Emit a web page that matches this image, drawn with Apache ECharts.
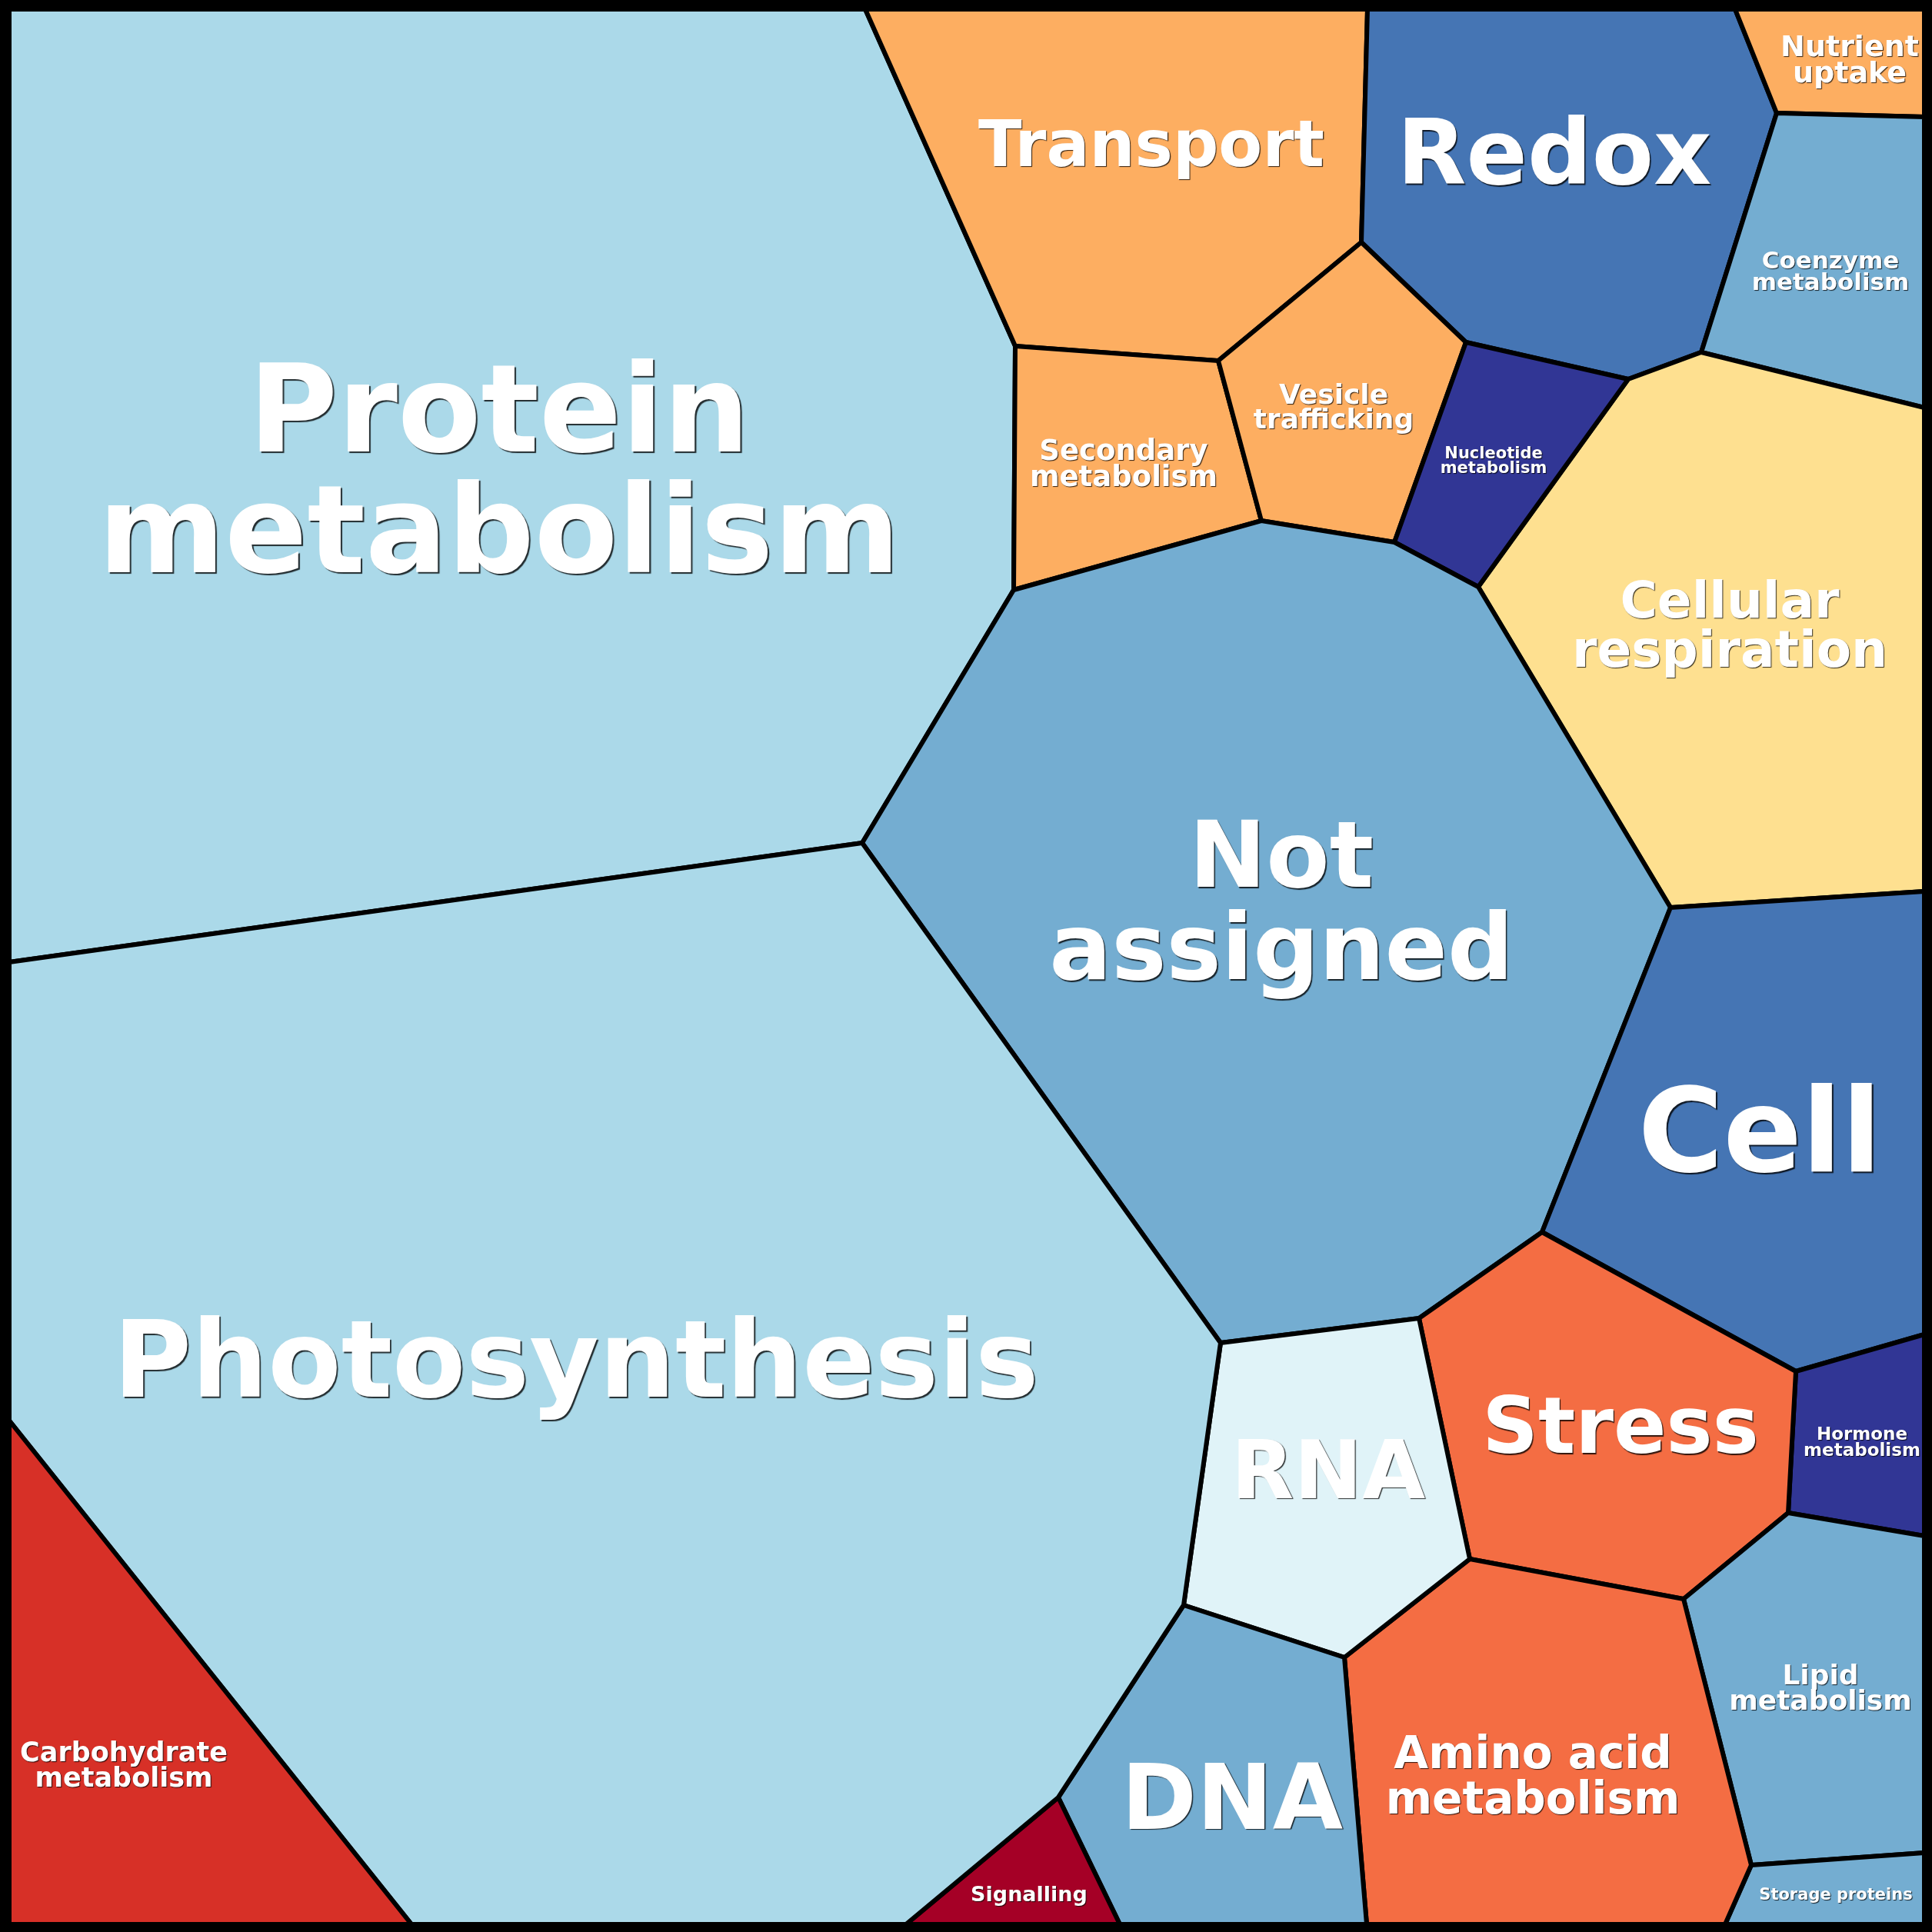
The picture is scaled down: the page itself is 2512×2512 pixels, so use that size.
<!DOCTYPE html>
<html>
<head>
<meta charset="utf-8">
<script src="https://cdn.jsdelivr.net/npm/echarts@6/dist/echarts.min.js"></script>
<style>
html,body{margin:0;padding:0;background:#fff;}
#chart{width:2512px;height:2512px;}
</style>
</head>
<body>
<div id="chart"></div>
<script>
// ---- Data: Voronoi treemap cells (vertex coordinates in plot units) ----
const categories = [
  'Protein metabolism','Transport','Redox','Nutrient uptake','Coenzyme metabolism',
  'Cellular respiration','Secondary metabolism','Vesicle trafficking','Nucleotide metabolism',
  'Not assigned','Cell','Hormone metabolism','Stress','Lipid metabolism','Storage proteins',
  'Amino acid metabolism','RNA','DNA','Signalling','Photosynthesis','Carbohydrate metabolism'
];
const labelLines = [
  'Protein\nmetabolism','Transport','Redox','Nutrient\nuptake','Coenzyme\nmetabolism',
  'Cellular\nrespiration','Secondary\nmetabolism','Vesicle\ntrafficking','Nucleotide\nmetabolism',
  'Not\nassigned','Cell','Hormone\nmetabolism','Stress','Lipid\nmetabolism','Storage proteins',
  'Amino acid\nmetabolism','RNA','DNA','Signalling','Photosynthesis','Carbohydrate\nmetabolism'
];
const cellVertices = [
  [[12,12],[1125,12],[1320,450],[1318,767],[1121,1096],[12,1251]],
  [[1125,12],[1778,12],[1770,315],[1584,469],[1320,450]],
  [[1778,12],[2256,12],[2310,147],[2212,458],[2117,493],[1906,445],[1770,315]],
  [[2256,12],[2502,12],[2502,152],[2310,147]],
  [[2310,147],[2502,152],[2502,530],[2212,458]],
  [[2212,458],[2502,530],[2502,1159],[2172,1180],[1922,763],[2117,493]],
  [[1320,450],[1584,469],[1640,677],[1318,767]],
  [[1584,469],[1770,315],[1906,445],[1813,705],[1640,677]],
  [[1906,445],[2117,493],[1922,763],[1813,705]],
  [[1318,767],[1640,677],[1813,705],[1922,763],[2172,1180],[2005,1602],[1845,1714],[1587,1746],[1121,1096]],
  [[2172,1180],[2502,1159],[2502,1735],[2335,1783],[2005,1602]],
  [[2335,1783],[2502,1735],[2502,1997],[2325,1967]],
  [[2005,1602],[2335,1783],[2325,1967],[2189,2079],[1911,2027],[1845,1714]],
  [[2325,1967],[2502,1997],[2502,2409],[2277,2425],[2189,2079]],
  [[2277,2425],[2502,2409],[2502,2502],[2243,2502]],
  [[1911,2027],[2189,2079],[2277,2425],[2243,2502],[1777,2502],[1748,2155]],
  [[1845,1714],[1911,2027],[1748,2155],[1539,2087],[1587,1746]],
  [[1539,2087],[1748,2155],[1777,2502],[1456,2502],[1376,2337]],
  [[1376,2337],[1456,2502],[1178,2502]],
  [[12,1251],[1121,1096],[1587,1746],[1539,2087],[1376,2337],[1178,2502],[535,2502],[12,1847]],
  [[12,1847],[535,2502],[12,2502]]
];
const frameExtent = [[0,0],[2512,2512]];

// ---- Styles (kept apart from the data) ----
const colorByName = {
  'Protein metabolism':'#abd9e9','Photosynthesis':'#abd9e9',
  'Not assigned':'#74add1','Coenzyme metabolism':'#74add1','Lipid metabolism':'#74add1','DNA':'#74add1','Storage proteins':'#74add1',
  'Redox':'#4575b4','Cell':'#4575b4',
  'Nucleotide metabolism':'#313695','Hormone metabolism':'#313695',
  'Transport':'#fdae61','Secondary metabolism':'#fdae61','Vesicle trafficking':'#fdae61','Nutrient uptake':'#fdae61',
  'Cellular respiration':'#fee090','RNA':'#e0f3f8',
  'Stress':'#f46d43','Amino acid metabolism':'#f46d43',
  'Carbohydrate metabolism':'#d73027','Signalling':'#a50026'
};
// label anchor [x, y], font size, line height
const labelLayout = {
  'Protein metabolism':[649,615,158,157],
  'Photosynthesis':[749,1772,139,139],
  'Not assigned':[1666,1175,120,120],
  'Transport':[1497,189,83,83],
  'Redox':[2021,202,117,117],
  'Cell':[2288,1475,151,151],
  'Stress':[2107,1857,101,101],
  'RNA':[1727,1914,106,106],
  'DNA':[1602,2340,118,118],
  'Amino acid metabolism':[1993,2310,58,59],
  'Lipid metabolism':[2367,2195,36,33],
  'Hormone metabolism':[2421,1875,23,21],
  'Storage proteins':[2387,2463,21,21],
  'Signalling':[1338,2463,27,27],
  'Carbohydrate metabolism':[161,2295,35,33],
  'Cellular respiration':[2249,814,66,64],
  'Coenzyme metabolism':[2380,353,31,28],
  'Nutrient uptake':[2405,78,38,34],
  'Vesicle trafficking':[1734,529,36,32],
  'Secondary metabolism':[1461,603,37,34],
  'Nucleotide metabolism':[1942,599,21,19]
};
const baselineShift = 0.06; // em, canvas 'middle' vs. visual centre

const chart = echarts.init(document.getElementById('chart'), null, {renderer:'canvas'});
const idx = categories.map((c, i) => [i]);

chart.setOption({
  backgroundColor:'#ffffff',
  animation:false,
  grid:{left:0,right:0,top:0,bottom:0},
  xAxis:{type:'value',min:0,max:2512,show:false},
  yAxis:{type:'value',min:0,max:2512,inverse:true,show:false},
  series:[
    {
      type:'custom', name:'cells', silent:true,
      data: idx,
      encode:{x:-1,y:-1},
      renderItem:function(params, api){
        const i = params.dataIndex;
        const pts = cellVertices[i].map(p => api.coord(p));
        return {
          type:'polygon',
          shape:{points:pts},
          style:{fill:colorByName[categories[i]], stroke:'#000', lineWidth:6, lineJoin:'miter'}
        };
      }
    },
    {
      type:'custom', name:'frame', silent:true,
      data:[[0]],
      encode:{x:-1,y:-1},
      renderItem:function(params, api){
        const p0 = api.coord(frameExtent[0]);
        const p1 = api.coord(frameExtent[1]);
        return {
          type:'rect',
          shape:{x:p0[0], y:p0[1], width:p1[0]-p0[0], height:p1[1]-p0[1]},
          style:{fill:'none', stroke:'#000', lineWidth:22}
        };
      }
    },
    {
      type:'custom', name:'labels', silent:true,
      data: idx,
      encode:{x:-1,y:-1},
      z:5,
      renderItem:function(params, api){
        const i = params.dataIndex;
        const lay = labelLayout[categories[i]];
        const fs = lay[2];
        const pos = api.coord([lay[0], lay[1] + baselineShift * fs]);
        const off = Math.max(1, fs/75);
        return {
          type:'text',
          style:{
            text: labelLines[i],
            x: pos[0], y: pos[1],
            fill:'#ffffff',
            fontFamily:'DejaVu Sans',
            fontWeight:'bold',
            fontSize: fs,
            lineHeight: lay[3],
            align:'center',
            verticalAlign:'middle',
            textShadowColor:'rgba(0,0,0,0.8)',
            textShadowBlur:1,
            textShadowOffsetX:off,
            textShadowOffsetY:off
          }
        };
      }
    }
  ]
});
</script>
</body>
</html>
